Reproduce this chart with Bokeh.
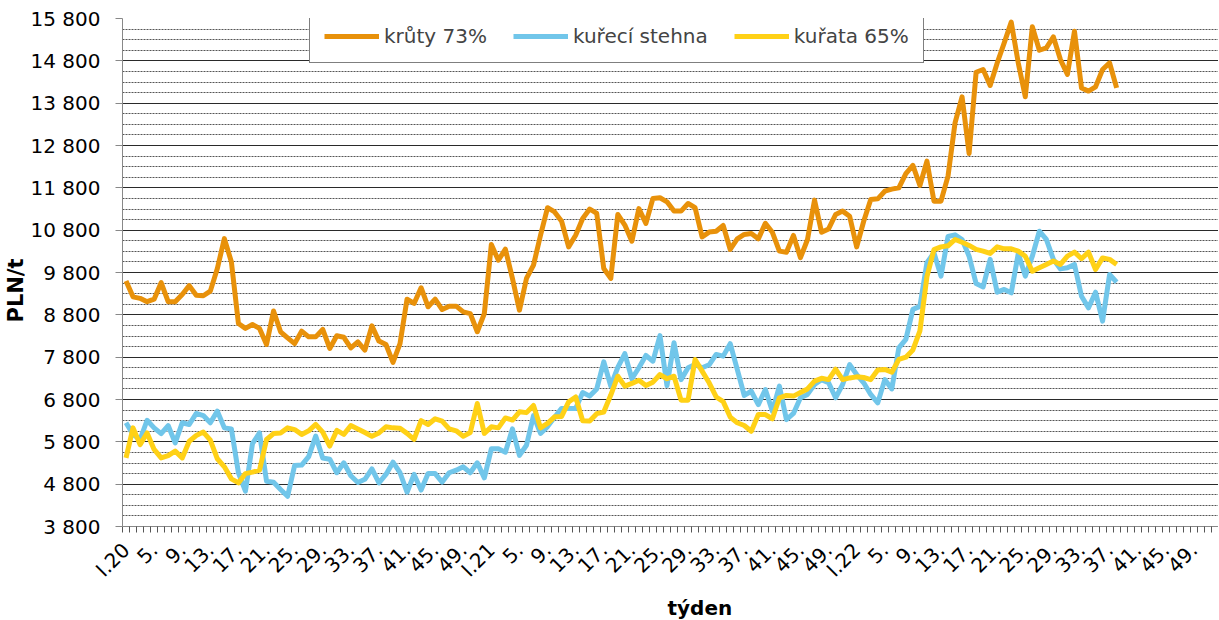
import math
from bokeh.plotting import figure
from bokeh.models import FixedTicker, Legend, LegendItem, Range1d, Title
from bokeh.embed import file_html
from bokeh.resources import INLINE

# ---- data (weekly prices, PLN/t), weeks from 1/2020 ----
kruty_73 = [9600, 9225, 9190, 9110, 9170, 9560, 9110, 9110, 9280, 9490, 9265, 9250, 9360, 9895, 10600, 10050,
            8595, 8480, 8570, 8480, 8100, 8890, 8400, 8255, 8120, 8415, 8280, 8280, 8455, 8005, 8305, 8270,
            8020, 8160, 7965, 8540, 8180, 8100, 7675, 8120, 9170, 9070, 9440, 8990, 9170, 8925, 9005, 9005,
            8870, 8830, 8400, 8830,
            10460, 10090, 10350, 9660, 8910, 9660, 9975, 10680, 11330, 11230, 11010, 10405, 10680, 11075,
            11300, 11195, 9895, 9660, 11170, 10920, 10540, 11310, 10960, 11550, 11565, 11470, 11250, 11250,
            11430, 11330, 10640, 10755, 10775, 10910, 10345, 10595, 10700, 10720, 10595, 10960, 10750, 10305,
            10280, 10675, 10150, 10580, 11510, 10750, 10830, 11170, 11250, 11130,
            10405, 11010, 11525, 11540, 11720, 11770, 11800, 12135, 12330, 11855, 12430, 11485, 11485, 12075,
            13335, 13950, 12610, 14530, 14595, 14220, 14750, 15225, 15715, 14750, 13950, 15605, 15050, 15105,
            15365, 14830, 14480, 15500, 14160, 14085, 14185, 14595, 14750, 14160]

kureci_stehna = [6250, 5975, 5855, 6310, 6130, 5995, 6185, 5775, 6250, 6210, 6470, 6420, 6250, 6525, 6130, 6105,
                 5070, 4635, 5760, 6010, 4870, 4845, 4675, 4515, 5240, 5250, 5450, 5935, 5420, 5390, 5070, 5305,
                 5000, 4840, 4915, 5160, 4830, 5030, 5320, 5070, 4610, 5030, 4660, 5050, 5050, 4850, 5070, 5130,
                 5210, 5070, 5305, 4950,
                 5635, 5635, 5555, 6105, 5480, 5720, 6420, 6000, 6160, 6380, 6590, 6585, 6585, 6965, 6880, 7050,
                 7690, 7120, 7560, 7885, 7290, 7550, 7840, 7705, 8310, 7130, 8140, 7270, 7550, 7625, 7550, 7620,
                 7865, 7825, 8120, 7510, 6895, 6995, 6680, 7035, 6525, 7115, 6325, 6470, 6840, 6920, 7155, 7270,
                 7195, 6840, 7155, 7625,
                 7390, 7195, 6920, 6720, 7270, 7050, 8020, 8220, 8930, 9000, 10030, 10265, 9715, 10650, 10690,
                 10580, 10185, 9540, 9460, 10110, 9335, 9400, 9320, 10250, 9715, 10185, 10775, 10580, 10110, 9885,
                 9910, 9990, 9240, 8965, 9335, 8650, 9755, 9570]

kurata_65 = [5420, 6130, 5735, 6010, 5620, 5420, 5475, 5580, 5420, 5815, 5950, 6030, 5840, 5400, 5210, 4925,
             4830, 5050, 5085, 5130, 5855, 5995, 6010, 6130, 6090, 5975, 6060, 6210, 6030, 5700, 6070, 5975,
             6185, 6105, 6020, 5930, 6010, 6155, 6130, 6120, 6000, 5860, 6300, 6210, 6345, 6290, 6105, 6060,
             5930, 6020, 6705, 6000,
             6155, 6130, 6365, 6315, 6510, 6490, 6660, 6130, 6235, 6390, 6400, 6745, 6860, 6300, 6290, 6465,
             6505, 6905, 7350, 7115, 7180, 7255, 7130, 7210, 7390, 7290, 7350, 6785, 6785, 7745, 7470, 7195,
             6860, 6750, 6385, 6250, 6185, 6050, 6445, 6445, 6345, 6840, 6895, 6880, 6965, 7050, 7235, 7300,
             7270, 7515, 7270, 7310,
             7335, 7320, 7270, 7495, 7510, 7445, 7745, 7800, 7970, 8420, 9700, 10340, 10405, 10430, 10580,
             10515, 10440, 10345, 10305, 10250, 10405, 10360, 10360, 10305, 10185, 9830, 9910, 9990, 10070,
             9990, 10185, 10280, 10125, 10280, 9870, 10145, 10110, 9990]

series_names = ["krůty 73%", "kuřecí stehna", "kuřata 65%"]
series_colors = ["#E8910A", "#71C6EA", "#FFD116"]

weeks_per_year = 52
n_years = 3
tick_labels = ["I.20", "5.", "9.", "13.", "17.", "21.", "25.", "29.", "33.", "37.", "41.", "45.", "49.",
               "I.21", "5.", "9.", "13.", "17.", "21.", "25.", "29.", "33.", "37.", "41.", "45.", "49.",
               "I.22", "5.", "9.", "13.", "17.", "21.", "25.", "29.", "33.", "37.", "41.", "45.", "49."]
y_ticks = list(range(3800, 15801, 1000))
x_title = "týden"
y_title = "PLN/t"

n_cat = weeks_per_year * n_years
label_pos = [(k // 13) * weeks_per_year + (k % 13) * 4 for k in range(len(tick_labels))]

FONT = "DejaVu Sans"

p = figure(width=1218, height=619, output_backend="svg", toolbar_location=None,
           x_range=Range1d(-0.5, n_cat - 0.5), y_range=Range1d(3800, 15800),
           min_border_left=122, min_border_right=0, min_border_top=18, min_border_bottom=93)
p.outline_line_color = None
p.background_fill_color = "white"
p.border_fill_color = "white"

renderers = []
for vals, col in zip([kruty_73, kureci_stehna, kurata_65], series_colors):
    r = p.line(x=list(range(len(vals))), y=vals, line_color=col, line_width=5, line_join="round")
    renderers.append(r)

# y axis
p.yaxis.ticker = FixedTicker(ticks=y_ticks,
                             minor_ticks=[v for v in range(3800, 15800, 250) if (v - 3800) % 1000 != 0])
p.yaxis.major_label_overrides = {v: f"{v:,}".replace(",", " ") for v in y_ticks}
p.yaxis.major_label_text_font = FONT
p.yaxis.major_label_text_font_size = "20px"
p.yaxis.major_label_text_color = "black"
p.yaxis.major_tick_out = 7
p.yaxis.major_tick_in = 0
p.yaxis.minor_tick_line_color = None
p.yaxis.major_label_standoff = 15
p.yaxis.axis_line_color = "#888888"
p.yaxis.major_tick_line_color = "#888888"

p.ygrid.grid_line_color = "#2a2a2a"
p.ygrid.grid_line_width = 1
p.ygrid.minor_grid_line_color = "#555555"
p.ygrid.minor_grid_line_dash = "2 1"
p.xgrid.grid_line_color = None

# x axis
p.xaxis.ticker = FixedTicker(ticks=label_pos, minor_ticks=[i - 0.5 for i in range(n_cat + 1)])
p.xaxis.major_label_overrides = {pos: lab for pos, lab in zip(label_pos, tick_labels)}
p.xaxis.major_label_orientation = math.pi / 4
p.xaxis.major_label_text_font = FONT
p.xaxis.major_label_text_font_size = "20px"
p.xaxis.major_label_text_color = "black"
p.xaxis.major_tick_out = 0
p.xaxis.major_tick_in = 0
p.xaxis.minor_tick_out = 6
p.xaxis.minor_tick_in = 0
p.xaxis.minor_tick_line_color = "#555555"
p.xaxis.major_label_standoff = 14
p.xaxis.axis_line_color = "#888888"

# axis titles (side-panel titles, shifted like in the reference)
p.add_layout(Title(text=x_title, align="left", offset=545, standoff=0,
                   text_font=FONT, text_font_size="20px", text_font_style="bold",
                   text_color="black"), "below")
p.add_layout(Title(text=y_title, align="left", offset=204, standoff=0,
                   text_font=FONT, text_font_size="21px", text_font_style="bold",
                   text_color="black"), "left")

legend = Legend(items=[LegendItem(label=n, renderers=[r]) for n, r in zip(series_names, renderers)],
                location=(187, 463), orientation="horizontal",
                border_line_color="black", border_line_width=1,
                background_fill_color="white", background_fill_alpha=1.0,
                label_text_font=FONT, label_text_font_size="20px",
                glyph_width=55, glyph_height=20, label_height=20, label_standoff=5,
                spacing=26, padding=14, margin=0)
p.add_layout(legend)

open("out.html", "w").write(file_html(p, INLINE))
